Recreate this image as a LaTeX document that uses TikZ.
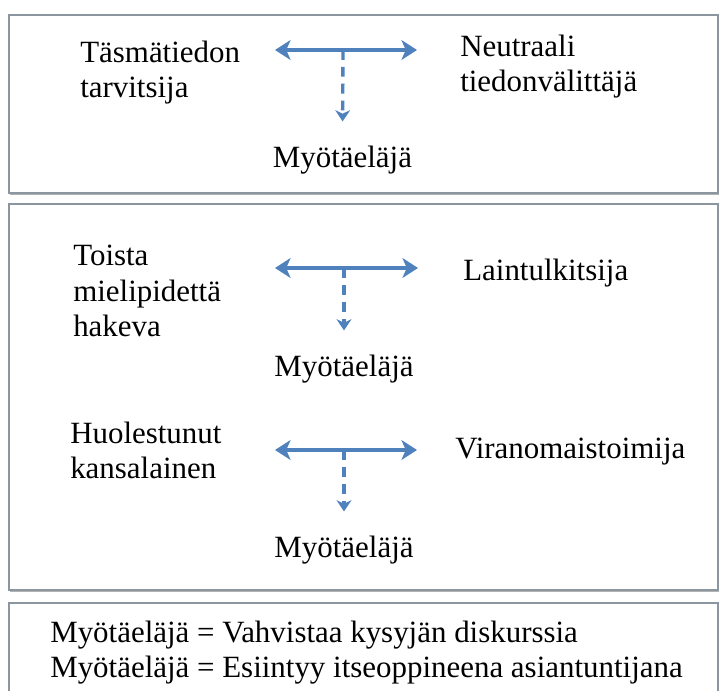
\documentclass[tikz,border=0pt]{standalone}
\usepackage{fontspec}
\setmainfont{Liberation Serif}
\usetikzlibrary{arrows.meta, shadows}

\definecolor{arrowblue}{HTML}{4F81BD}
\definecolor{boxgray}{HTML}{8C96A0}

\begin{document}
\begin{tikzpicture}[
  lbl/.style={inner sep=0, align=left, font=\fontsize{22}{25.5}\selectfont},
  panel/.style={draw=boxgray, line width=1pt, fill=white,
    drop shadow={shadow xshift=0.6pt, shadow yshift=-1.6pt, fill=black!60, opacity=0.5}},
  twoway/.style={arrowblue, line width=2.8pt,
    {Stealth[length=11pt, width=14pt, inset=3pt]}-{Stealth[length=11pt, width=14pt, inset=3pt]}},
  dashdown/.style={arrowblue, line width=2.4pt, dash pattern=on 7pt off 5pt,
    -{Stealth[length=8pt, width=10.5pt, inset=2.5pt]}, shorten >=0.62cm}
]
  \useasboundingbox (0, 0) rectangle (18, -17.275);
  \clip (0, 0) rectangle (18, -17.275);

  % laatikot
  \draw[panel] (0.225, -0.375) rectangle (17.95, -4.825);
  \draw[panel] (0.225, -5.1) rectangle (17.95, -14.75);
  \draw[panel] (0.225, -15.075) rectangle (17.95, -17.8);

  % ylin laatikko
  \node[lbl, anchor=base west] at (2, -2.45) (ask1) {Täsmätiedon\\tarvitsija};
  \node[lbl, anchor=base west] at (11.5, -2.3) (neu) {Neutraali\\tiedonvälittäjä};
  \node[lbl, anchor=base] at (8.56, -4.2) (my1) {Myötäeläjä};
  \coordinate (a1w) at (6.875, -1.25);
  \coordinate (a1e) at (10.425, -1.25);
  \coordinate (a1m) at (8.575, -1.25);
  \draw[twoway] (a1w) -- (a1e);
  \draw[dashdown] (a1m) -- (my1);

  % keskimmäinen laatikko, ylempi rivi
  \node[lbl, anchor=base west] at (1.825, -8.425) (ask2) {Toista\\mielipidettä\\hakeva};
  \node[lbl, anchor=base west] at (11.575, -7.025) (lain) {Laintulkitsija};
  \node[lbl, anchor=base] at (8.6, -9.425) (my2) {Myötäeläjä};
  \coordinate (a2w) at (6.875, -6.7);
  \coordinate (a2e) at (10.45, -6.7);
  \coordinate (a2m) at (8.6, -6.7);
  \draw[twoway] (a2w) -- (a2e);
  \draw[dashdown] (a2m) -- (my2);

  % keskimmäinen laatikko, alempi rivi
  \node[lbl, anchor=base west] at (1.75, -11.975) (ask3) {Huolestunut\\kansalainen};
  \node[lbl, anchor=base west] at (11.375, -11.475) (vir) {Viranomaistoimija};
  \node[lbl, anchor=base] at (8.6, -13.95) (my3) {Myötäeläjä};
  \coordinate (a3w) at (6.875, -11.25);
  \coordinate (a3e) at (10.425, -11.25);
  \coordinate (a3m) at (8.6, -11.25);
  \draw[twoway] (a3w) -- (a3e);
  \draw[dashdown] (a3m) -- (my3);

  % selitykset
  \node[lbl, anchor=base west] at (1.25, -16.95) (def)
    {Myötäeläjä = Vahvistaa kysyjän diskurssia\\Myötäeläjä = Esiintyy itseoppineena asiantuntijana};
\end{tikzpicture}
\end{document}
